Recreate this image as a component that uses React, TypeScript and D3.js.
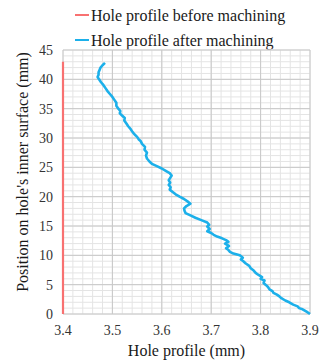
import React from "react";
import * as d3 from "d3";

// hole profile measured along the depth (mm)
const beforeDepth = [0, 43];
const beforeProfile = [3.4, 3.4];

const afterDepth = [
  0.0, 0.4, 0.8, 1.0, 1.3, 1.6, 2.0, 2.3, 2.7, 3.0, 3.3, 3.6, 3.9, 4.2, 4.6, 5.0, 5.3, 5.7, 6.0, 6.3,
  6.7, 7.0, 7.4, 7.8, 8.2, 8.6, 9.0, 9.3, 9.6, 10.0, 10.3, 10.6, 10.9, 11.2, 11.6, 12.0, 12.3, 12.6,
  12.9, 13.2, 13.5, 13.8, 14.1, 14.5, 14.9, 15.2, 15.6, 16.0, 16.4, 16.8, 17.2, 17.6, 18.0, 18.4, 18.8,
  19.2, 19.6, 20.0, 20.4, 20.8, 21.2, 21.6, 22.0, 22.4, 22.8, 23.2, 23.6, 24.0, 24.4, 24.8, 25.2, 25.6,
  26.0, 26.5, 27.0, 27.5, 28.0, 28.5, 29.0, 29.5, 29.8, 30.2, 30.6, 31.0, 31.5, 32.0, 32.5, 33.0, 33.4,
  33.8, 34.2, 34.6, 35.0, 35.5, 36.0, 36.5, 37.0, 37.5, 38.0, 38.5, 39.0, 39.5, 40.0, 40.4, 40.8, 41.2,
  41.6, 42.0, 42.4, 42.8,
];
const afterProfile = [
  3.9, 3.893, 3.885, 3.878, 3.875, 3.866, 3.858, 3.85, 3.842, 3.838, 3.833, 3.826, 3.824, 3.818, 3.815,
  3.81, 3.806, 3.808, 3.8, 3.803, 3.795, 3.79, 3.786, 3.78, 3.777, 3.77, 3.765, 3.76, 3.764, 3.758,
  3.745, 3.738, 3.735, 3.73, 3.736, 3.728, 3.735, 3.73, 3.722, 3.712, 3.705, 3.7, 3.692, 3.697, 3.692,
  3.696, 3.692, 3.68, 3.668, 3.658, 3.648, 3.646, 3.645, 3.65, 3.658, 3.652, 3.645, 3.636, 3.628, 3.622,
  3.616, 3.618, 3.614, 3.617, 3.614, 3.617, 3.62, 3.616, 3.608, 3.6, 3.59, 3.58, 3.575, 3.57, 3.568,
  3.57, 3.565, 3.566, 3.56, 3.557, 3.553, 3.55, 3.545, 3.541, 3.537, 3.532, 3.528, 3.524, 3.525, 3.52,
  3.515, 3.516, 3.512, 3.508, 3.508, 3.504, 3.5, 3.495, 3.49, 3.486, 3.482, 3.477, 3.473, 3.47, 3.472,
  3.472, 3.474, 3.476, 3.48, 3.485,
];

const xTicks = [3.4, 3.5, 3.6, 3.7, 3.8, 3.9];
const yTicks = [0, 5, 10, 15, 20, 25, 30, 35, 40, 45];

const legendItems = [
  { label: "Hole profile before machining", color: "#f87171" },
  { label: "Hole profile after machining", color: "#1cb0ea" },
];

const width = 325;
const height = 361;
const margin = { top: 50, right: 15, bottom: 47, left: 63 };
const font = "'Liberation Serif', 'Times New Roman', serif";

export default function App() {
  const innerWidth = width - margin.left - margin.right;
  const innerHeight = height - margin.top - margin.bottom;

  const x = d3.scaleLinear().domain([3.4, 3.9]).range([0, innerWidth]);
  const y = d3.scaleLinear().domain([0, 45]).range([innerHeight, 0]);

  const minorX = d3.range(0, 26).map((i) => 3.4 + i * 0.02);
  const minorY = d3.range(0, 46);

  const line = d3
    .line<[number, number]>()
    .x((d) => x(d[0]))
    .y((d) => y(d[1]));

  const before = beforeDepth.map((d, i) => [beforeProfile[i], d] as [number, number]);
  const after = afterDepth.map((d, i) => [afterProfile[i], d] as [number, number]);

  return (
    <svg
      width={width}
      height={height}
      style={{ position: "absolute", left: 0, top: 0, background: "#fff" }}
      fontFamily={font}
    >
      {legendItems.map((item, i) => (
        <g key={item.label} transform={`translate(75,${15 + i * 25})`}>
          <line x1={0} x2={14} y1={0} y2={0} stroke={item.color} strokeWidth={2} />
          <text x={16} y={5.5} fontSize={16} fill="#1a1a1a">
            {item.label}
          </text>
        </g>
      ))}
      <g transform={`translate(${margin.left},${margin.top})`}>
        {minorX.map((v, i) => (
          <line key={"mx" + i} x1={x(v)} x2={x(v)} y1={0} y2={innerHeight} stroke="#e4e4e4" strokeWidth={1} />
        ))}
        {minorY.map((v) => (
          <line key={"my" + v} x1={0} x2={innerWidth} y1={y(v)} y2={y(v)} stroke="#e4e4e4" strokeWidth={1} />
        ))}
        {xTicks.map((v) => (
          <line key={"gx" + v} x1={x(v)} x2={x(v)} y1={0} y2={innerHeight} stroke="#c8c8c8" strokeWidth={1} />
        ))}
        {yTicks.map((v) => (
          <line key={"gy" + v} x1={0} x2={innerWidth} y1={y(v)} y2={y(v)} stroke="#c8c8c8" strokeWidth={1} />
        ))}
        <path d={line(after) || ""} fill="none" stroke="#1cb0ea" strokeWidth={2.6} strokeLinejoin="round" />
        <path d={line(before) || ""} fill="none" stroke="#f87171" strokeWidth={2.2} />
        {yTicks.map((v) => (
          <text key={"ty" + v} x={-10} y={y(v) + 5} textAnchor="end" fontSize={14} fill="#333">
            {v}
          </text>
        ))}
        {xTicks.map((v) => (
          <text key={"tx" + v} x={x(v)} y={innerHeight + 21} textAnchor="middle" fontSize={14} fill="#333">
            {v.toFixed(1)}
          </text>
        ))}
        <text x={innerWidth / 2} y={innerHeight + 42} textAnchor="middle" fontSize={16} fill="#1a1a1a">
          Hole profile (mm)
        </text>
        <text
          transform={`translate(${-35},${innerHeight / 2 - 10}) rotate(-90)`}
          textAnchor="middle"
          fontSize={16}
          fill="#1a1a1a"
        >
          Position on hole's inner surface (mm)
        </text>
      </g>
    </svg>
  );
}
